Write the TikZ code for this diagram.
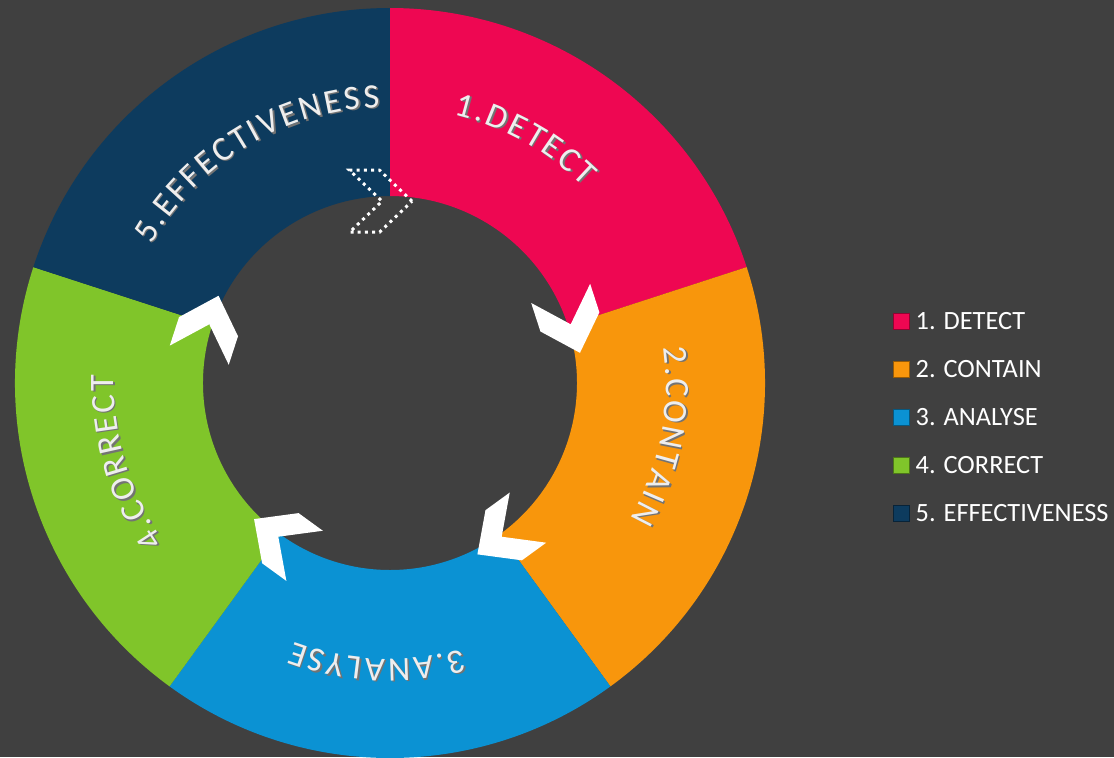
\documentclass[tikz,border=0pt]{standalone}
\usepackage{fontspec}
\setmainfont{Carlito}
\newfontfamily\ringfont{Carlito}
\usetikzlibrary{decorations.text,positioning}
\definecolor{bg}{HTML}{404040}
\definecolor{detect}{HTML}{EE0752}
\definecolor{contain}{HTML}{F8960C}
\definecolor{analyse}{HTML}{0B92D3}
\definecolor{correct}{HTML}{80C52A}
\definecolor{effect}{HTML}{0D3B5E}
\definecolor{ringtext}{HTML}{EEEEEE}
\tikzset{
  chevron/.pic={\path[pic actions] (0.6,0) -- (-0.05,0.62) -- (-0.65,0.62) -- (0,0) -- (-0.65,-0.62) -- (-0.05,-0.62) -- cycle;},
  key/.style={minimum size=0.32cm, inner sep=0pt, draw=#1!60!black, fill=#1},
  keytext/.style={text=white, font=\fontsize{15}{18}\selectfont, inner sep=0pt},
}
\begin{document}
\begin{tikzpicture}
    \fill[bg] (-7.8,-7.48) rectangle (14.48,7.66);
    \useasboundingbox (-7.8,-7.48) rectangle (14.48,7.66);
    \coordinate (O) at (0,0);
    \foreach \col/\sa in {detect/90, contain/18, analyse/-54, correct/-126, effect/-198}
        \fill[\col] (\sa:7.5) arc[start angle=\sa, end angle=\sa-72, radius=7.5]
            -- (\sa-72:3.74) arc[start angle=\sa-72, end angle=\sa, radius=3.74] -- cycle;
    \foreach \sa in {18,-54,-126,-198}
        \pic[fill=white, rotate=\sa-90] at (\sa:3.8) {chevron};
    \pic[draw=white, line width=1.7pt, dash pattern=on 1.7pt off 2.4pt] at (92.5:3.64) {chevron};
    \foreach \tc/\dx in {black!55/0.03, ringtext/0}
    \foreach \lab/\la in {1.DETECT/61, 2.CONTAIN/-11, 3.ANALYSE/-92.6, 4.CORRECT/-163.4, 5.EFFECTIVENESS/121}
        \path[shift={(\dx,-\dx)}, font=\ringfont\fontsize{19.5}{22}\selectfont, decorate,
            decoration={text effects along path, text/.expanded=\lab, text align=center,
                text effects/.cd, characters={text=\tc, transform shape, anchor=base, inner xsep=0.75pt, inner ysep=0pt},
                character widths={inner xsep=0.75pt}}]
            (\la+40:5.52) arc[start angle=\la+40, end angle=\la-40, radius=5.52];
    \foreach \col/\lab [count=\i] in {detect/1. DETECT, contain/2. CONTAIN, analyse/3. ANALYSE, correct/4. CORRECT, effect/5. EFFECTIVENESS} {
        \node[key=\col] (key\i) at (10.22,2.2-0.96*\i) {};
        \node[keytext, right=0.12cm of key\i] (lab\i) {\lab};
    }
\end{tikzpicture}
\end{document}
